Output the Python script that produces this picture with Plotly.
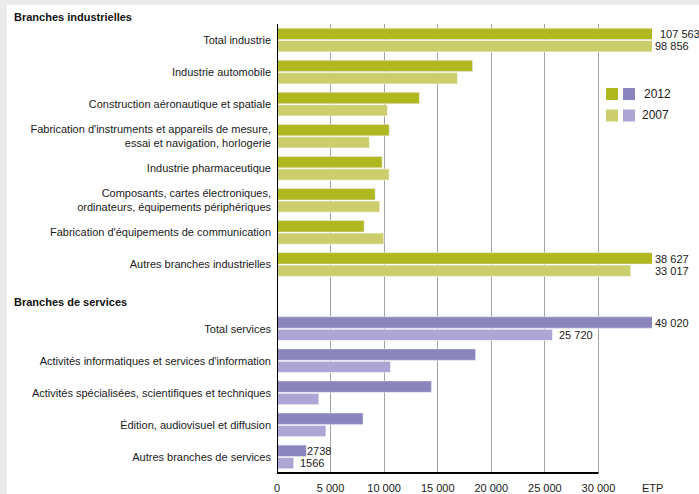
import plotly.graph_objects as go

# ---- data ----
industry_labels = [
    "Total industrie",
    "Industrie automobile",
    "Construction aéronautique et spatiale",
    "Fabrication d'instruments et appareils de mesure,<br>essai et navigation, horlogerie",
    "Industrie pharmaceutique",
    "Composants, cartes électroniques,<br>ordinateurs, équipements périphériques",
    "Fabrication d'équipements de communication",
    "Autres branches industrielles",
]
industry_2012 = [107563, 18250, 13280, 10470, 9810, 9160, 8130, 38627]
industry_2007 = [98856, 16850, 10310, 8630, 10470, 9600, 9970, 33017]

service_labels = [
    "Total services",
    "Activités informatiques et services d'information",
    "Activités spécialisées, scientifiques et techniques",
    "Édition, audiovisuel et diffusion",
    "Autres branches de services",
]
service_2012 = [49020, 18530, 14410, 8030, 2738]
service_2007 = [25720, 10600, 3910, 4570, 1566]

# value labels shown on the chart (category, 2012 text, 2007 text)
shown_labels = {
    "Total industrie": ("107 563", "98 856"),
    "Autres branches industrielles": ("38 627", "33 017"),
    "Total services": ("49 020", "25 720"),
    "Autres branches de services": ("2738", "1566"),
}

tick_vals = [0, 5000, 10000, 15000, 20000, 25000, 30000]
tick_text = ["0", "5 000", "10 000", "15 000", "20 000", "25 000", "30 000"]
unit_label = "ETP"
header_industry = "Branches industrielles"
header_services = "Branches de services"
legend_years = ["2012", "2007"]

# ---- style ----
C_IND_12 = "#afb81e"
C_IND_07 = "#ccce6e"
C_SRV_12 = "#8b85be"
C_SRV_07 = "#ada6d4"
FONT = "Liberation Sans, Arial, sans-serif"
FS = 11
TXT = "#1a1a1a"
XMAX = 35000
PIN_RIGHT = {"33 017"}          # labels the original pins to the right edge
LABEL_SHIFT = {"107 563": 6, "2738": -1}   # label nudges (px)

W, H = 699, 494
L, R, T, B = 277, 47, 24, 21
PW, PH = W - L - R, H - T - B

def px(x):
    return (x - L) / PW

def py(y):
    return 1 - (y - T) / PH

gap = " "
cats = industry_labels + [gap] + service_labels
v12 = industry_2012 + [None] + service_2012
v07 = industry_2007 + [None] + service_2007
c12 = [C_IND_12] * len(industry_labels) + [C_IND_12] + [C_SRV_12] * len(service_labels)
c07 = [C_IND_07] * len(industry_labels) + [C_IND_07] + [C_SRV_07] * len(service_labels)

fig = go.Figure()
fig.add_trace(go.Bar(y=cats, x=v12, orientation="h", marker=dict(color=c12),
                     name="2012", hoverinfo="x+y"))
fig.add_trace(go.Bar(y=cats, x=v07, orientation="h",
                     marker=dict(color=c07, line=dict(color="rgba(255,255,255,0.6)", width=1)),
                     name="2007", hoverinfo="x+y"))

annotations = []
for cat, (t12, t07) in shown_labels.items():
    i = cats.index(cat)
    for val, txt, ys in ((v12[i], t12, 6), (v07[i], t07, -6)):
        pinned = val > XMAX or txt in PIN_RIGHT
        xs = LABEL_SHIFT.get(txt, 1 if pinned else 4)
        annotations.append(dict(
            x=XMAX if pinned else val, y=cat, xref="x", yref="y", text=txt,
            showarrow=False, xanchor="left", yanchor="middle",
            xshift=xs, yshift=ys,
            font=dict(family=FONT, size=FS, color=TXT)))

# headers
for txt, yc in ((header_industry, 17), (header_services, 302)):
    annotations.append(dict(x=px(12), y=py(yc), xref="paper", yref="paper",
                            text="<b>" + txt + "</b>", showarrow=False,
                            xanchor="left", yanchor="middle",
                            font=dict(family=FONT, size=FS, color="#111")))
# unit label
annotations.append(dict(x=XMAX, y=py(488), xref="x", yref="paper", text=unit_label,
                        showarrow=False, xanchor="center", yanchor="middle",
                        font=dict(family=FONT, size=FS, color=TXT)))

# legend (drawn manually: two swatches per year)
shapes = []
legend_rows = [(94, C_IND_12, C_SRV_12, legend_years[0], 642),
               (115.5, C_IND_07, C_SRV_07, legend_years[1], 640)]
for yc, ca, cb, txt, tx in legend_rows:
    for x0, col in ((606, ca), (623, cb)):
        shapes.append(dict(type="rect", xref="paper", yref="paper",
                           x0=px(x0), x1=px(x0 + 12), y0=py(yc - 6), y1=py(yc + 6),
                           fillcolor=col, line=dict(width=0)))
    annotations.append(dict(x=px(tx), y=py(yc), xref="paper", yref="paper", text=txt,
                            showarrow=False, xanchor="left", yanchor="middle",
                            font=dict(family=FONT, size=FS + 1, color=TXT)))

# frame: grey strips on top and left
shapes.append(dict(type="rect", xref="paper", yref="paper", layer="below",
                   x0=px(0), x1=px(W), y0=py(0), y1=py(5),
                   fillcolor="#ebebeb", line=dict(width=0)))
shapes.append(dict(type="rect", xref="paper", yref="paper", layer="below",
                   x0=px(0), x1=px(7), y0=py(0), y1=py(H),
                   fillcolor="#ebebeb", line=dict(width=0)))
# axis lines
shapes.append(dict(type="line", xref="x", yref="paper", x0=0, x1=30000, y0=0, y1=0,
                   line=dict(color="black", width=2)))
shapes.append(dict(type="line", xref="x", yref="paper", x0=0, x1=0, y0=0, y1=1,
                   line=dict(color="black", width=2)))

fig.update_layout(
    width=W, height=H,
    margin=dict(l=L, r=R, t=T, b=B, pad=0, autoexpand=False),
    paper_bgcolor="white", plot_bgcolor="white",
    barmode="group", bargap=0.23, bargroupgap=0.08,
    showlegend=False,
    font=dict(family=FONT, size=FS, color=TXT),
    xaxis=dict(range=[0, XMAX], tickvals=tick_vals, ticktext=tick_text,
               automargin=False,
               showgrid=True, gridcolor="#a3a3a3", gridwidth=1,
               zeroline=False, showline=False, ticks="", ticklen=0,
               ticklabelstandoff=7,
               tickfont=dict(family=FONT, size=FS, color=TXT)),
    yaxis=dict(categoryorder="array", categoryarray=cats, autorange="reversed",
               automargin=False,
               showgrid=False, zeroline=False, showline=False, ticks="",
               ticklabelstandoff=5,
               tickfont=dict(family=FONT, size=FS, color=TXT)),
    annotations=annotations,
    shapes=shapes,
)

fig.write_html(
    "out.html",
    config={"displayModeBar": False},
    post_script="document.body.style.margin='0';document.body.style.overflow='hidden';",
)
